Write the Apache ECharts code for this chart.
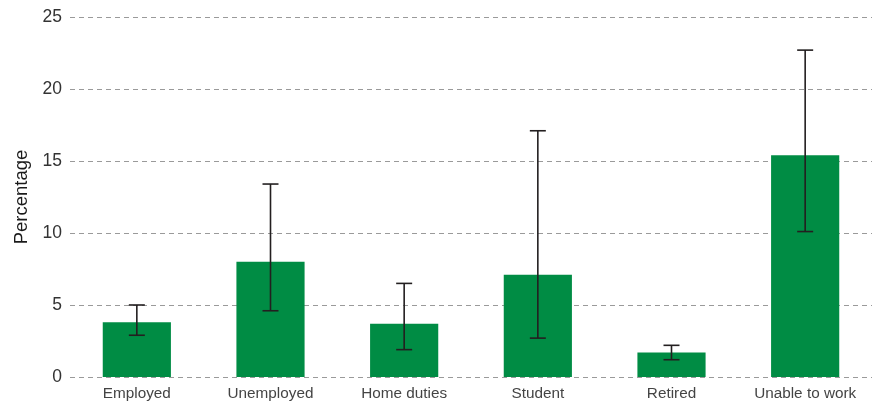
<!DOCTYPE html>
<html>
<head>
<meta charset="utf-8">
<script src="https://cdn.jsdelivr.net/npm/echarts@6/dist/echarts.min.js"></script>
<style>
  html, body { margin: 0; padding: 0; background: #fff; }
  #chart { width: 876px; height: 401px; }
</style>
</head>
<body>
<div id="chart"></div>
<script>
// Share of each labour-force group, with confidence intervals
const categories = ['Employed', 'Unemployed', 'Home duties', 'Student', 'Retired', 'Unable to work'];
const values = [3.8, 8.0, 3.7, 7.1, 1.7, 15.4];
const lowerBounds = [2.9, 4.6, 1.9, 2.7, 1.2, 10.1];
const upperBounds = [5.0, 13.4, 6.5, 17.1, 2.2, 22.7];
const yTicks = [0, 5, 10, 15, 20, 25];

const errorData = categories.map((c, i) => [i, lowerBounds[i], upperBounds[i]]);
const font = 'Liberation Sans, Arial, sans-serif';

const chart = echarts.init(document.getElementById('chart'));
chart.setOption({
  animation: false,
  grid: { left: 70, right: 4, top: 17, bottom: 23 },
  xAxis: {
    type: 'category',
    data: categories,
    axisLine: { show: false },
    axisTick: { show: false },
    axisLabel: { color: '#444', fontSize: 15.3, fontFamily: font, margin: 9 }
  },
  yAxis: {
    type: 'value',
    min: yTicks[0],
    max: yTicks[yTicks.length - 1],
    interval: 5,
    name: 'Percentage',
    nameLocation: 'middle',
    nameGap: 38,
    nameTextStyle: { color: '#1a1a1a', fontSize: 18.5, fontFamily: font },
    axisLine: { show: false },
    axisTick: { show: false },
    axisLabel: { color: '#333', fontSize: 17.5, fontFamily: font, margin: 8 },
    splitLine: { lineStyle: { color: '#9a9a9a', type: [5, 4], width: 1 } }
  },
  series: [
    {
      type: 'bar',
      data: values,
      barWidth: '51%',
      itemStyle: { color: '#008C44' }
    },
    {
      type: 'custom',
      data: errorData,
      z: 10,
      renderItem: function (params, api) {
        const x = api.value(0);
        const lo = api.coord([x, api.value(1)]);
        const hi = api.coord([x, api.value(2)]);
        const cap = 8;
        const style = { stroke: '#231F20', lineWidth: 1.6 };
        return {
          type: 'group',
          children: [
            { type: 'line', shape: { x1: hi[0], y1: hi[1], x2: lo[0], y2: lo[1] }, style: style },
            { type: 'line', shape: { x1: hi[0] - cap, y1: hi[1], x2: hi[0] + cap, y2: hi[1] }, style: style },
            { type: 'line', shape: { x1: lo[0] - cap, y1: lo[1], x2: lo[0] + cap, y2: lo[1] }, style: style }
          ]
        };
      }
    }
  ]
});
</script>
</body>
</html>
